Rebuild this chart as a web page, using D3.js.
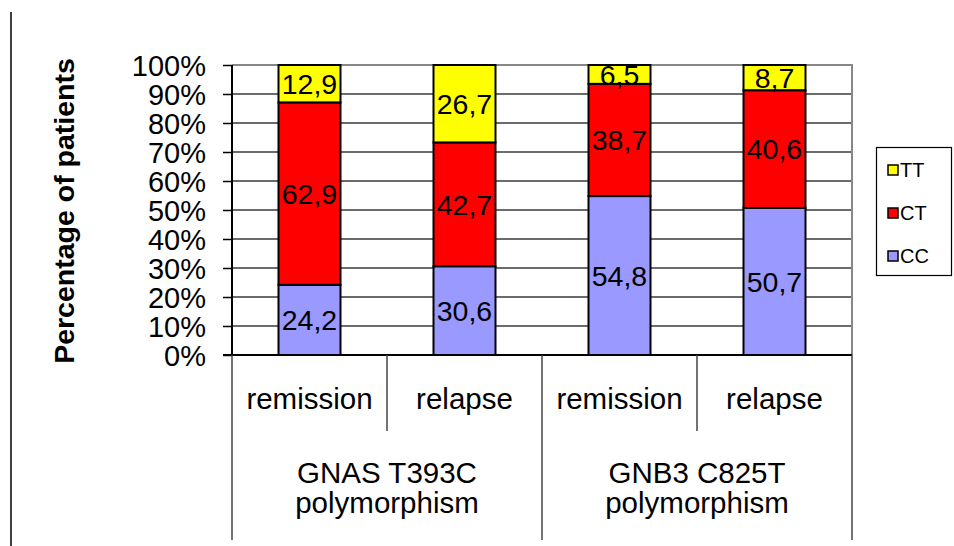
<!DOCTYPE html>
<meta charset="utf-8">
<script src="https://d3js.org/d3.v7.min.js"></script>
<style>
  body { margin: 0; background: #fff; }
  text { font-family: "Liberation Sans", Arial, sans-serif; fill: #000; }
</style>
<div id="chart"></div>
<script>

// data
var categories = ["remission", "relapse", "remission", "relapse"];
var groups = [["GNAS T393C", "polymorphism"], ["GNB3 C825T", "polymorphism"]];
var groupOf = [0, 0, 1, 1];
var genotypes = ["CC", "CT", "TT"];
var ccValues = [24.2, 30.6, 54.8, 50.7];
var ctValues = [62.9, 42.7, 38.7, 40.6];
var ttValues = [12.9, 26.7, 6.5, 8.7];
var yTicks = [0, 10, 20, 30, 40, 50, 60, 70, 80, 90, 100];
var colors = ["#9999ff", "#ff0000", "#ffff00"];

var W = 954, H = 546;
var pLeft = 232, pRight = 852, pTop = 65, pBottom = 355;

var svg = d3.select("#chart").append("svg")
    .attr("width", W)
    .attr("height", H);

// outer frame line on the left
svg.append("line")
    .attr("x1", 11).attr("x2", 11)
    .attr("y1", 12).attr("y2", H)
    .attr("stroke", "#000").attr("stroke-width", 1.5);

var rows = categories.map(function(c, i) {
  return {i: i, CC: ccValues[i], CT: ctValues[i], TT: ttValues[i]};
});
var series = d3.stack().keys(genotypes)(rows);

var x = d3.scaleBand()
  .domain(d3.range(categories.length))
  .range([pLeft, pRight])
  .paddingInner(0.6)
  .paddingOuter(0.3);

var y = d3.scaleLinear()
  .domain([0, 100])
  .range([pBottom, pTop]);

// gridlines
svg.append("g")
  .selectAll("line")
  .data(yTicks.slice(1, -1))
  .enter()
  .append("line")
    .attr("x1", pLeft).attr("x2", pRight)
    .attr("y1", function(d) { return y(d); })
    .attr("y2", function(d) { return y(d); })
    .attr("stroke", "#3a3a3a").attr("stroke-width", 1.3);

// plot border (top/right gray)
svg.append("path")
    .attr("d", "M" + pLeft + "," + y(100) + "H" + pRight + "V" + y(0))
    .attr("fill", "none").attr("stroke", "#888").attr("stroke-width", 2);

// bars
var bars = svg.append("g");
bars.selectAll("g")
  .data(series)
  .enter()
  .append("g")
    .attr("fill", function(d, i) { return colors[i]; })
  .selectAll("rect")
  .data(function(d) { return d; })
  .enter()
  .append("rect")
    .attr("x", function(d) { return x(d.data.i); })
    .attr("y", function(d) { return y(d[1]); })
    .attr("width", x.bandwidth())
    .attr("height", function(d) { return y(d[0]) - y(d[1]); })
    .attr("stroke", "#000").attr("stroke-width", 2);

// value labels (clipped to plot area)
svg.append("clipPath").attr("id", "plotclip")
  .append("rect")
    .attr("x", pLeft).attr("y", pTop)
    .attr("width", pRight - pLeft).attr("height", pBottom - pTop);

var labels = svg.append("g").attr("clip-path", "url(#plotclip)");
series.forEach(function(s) {
  labels.selectAll(null)
    .data(s)
    .enter()
    .append("text")
      .attr("x", function(d) { return x(d.data.i) + x.bandwidth() / 2; })
      .attr("y", function(d) { return (y(d[0]) + y(d[1])) / 2; })
      .attr("dy", "0.36em")
      .attr("text-anchor", "middle")
      .style("font-size", "28.5px")
      .text(function(d) { return (d[1] - d[0]).toFixed(1).replace(".", ","); });
});

// y axis
svg.append("g")
  .attr("transform", "translate(" + pLeft + ",0)")
  .call(d3.axisLeft(y).tickValues(yTicks).tickSize(9).tickPadding(17)
        .tickFormat(function(d) { return d + "%"; }))
  .call(function(g) {
    g.select(".domain").attr("stroke-width", 2).attr("d", "M0," + y(0) + "V" + y(100));
    g.selectAll(".tick line").attr("stroke-width", 1.5);
    g.selectAll("text")
      .attr("dy", "0.36em")
      .style("font-size", "29px")
      .style("font-family", "Liberation Sans, Arial, sans-serif");
  });

// bottom axis line
svg.append("line")
    .attr("x1", pLeft - 9).attr("x2", pRight)
    .attr("y1", y(0)).attr("y2", y(0))
    .attr("stroke", "#000").attr("stroke-width", 2);

// y title
svg.append("text")
    .attr("transform", "translate(74," + ((pTop + pBottom) / 2 + 1) + ") rotate(-90)")
    .attr("text-anchor", "middle")
    .style("font-size", "28.5px")
    .style("font-weight", "bold")
    .text("Percentage of patients");

// category dividers
var step = x.step();
var dividers = d3.range(categories.length + 1).map(function(k) {
  var isLong = (k === 0 || k === categories.length || groupOf[k] !== groupOf[k - 1]);
  return {x: pLeft + k * step, long: isLong};
});
svg.append("g")
  .selectAll("line")
  .data(dividers)
  .enter()
  .append("line")
    .attr("x1", function(d) { return d.x; })
    .attr("x2", function(d) { return d.x; })
    .attr("y1", pBottom)
    .attr("y2", function(d) { return d.long ? 540 : 431; })
    .attr("stroke", "#444").attr("stroke-width", 1.5);

// category labels
svg.append("g")
  .selectAll("text")
  .data(categories)
  .enter()
  .append("text")
    .attr("x", function(d, i) { return x(i) + x.bandwidth() / 2; })
    .attr("y", 409)
    .attr("text-anchor", "middle")
    .style("font-size", "29.5px")
    .text(function(d) { return d; });

// group labels
groups.forEach(function(lines, gi) {
  var idx = d3.range(categories.length).filter(function(i) { return groupOf[i] === gi; });
  var cx = d3.mean(idx, function(i) { return x(i) + x.bandwidth() / 2; });
  svg.append("g")
    .selectAll("text")
    .data(lines)
    .enter()
    .append("text")
      .attr("x", cx)
      .attr("y", function(d, j) { return 483 + j * 30; })
      .attr("text-anchor", "middle")
      .style("font-size", "29.5px")
      .text(function(d) { return d; });
});

// legend
var legend = svg.append("g");
legend.append("rect")
    .attr("x", 876.5).attr("y", 147.5)
    .attr("width", 75).attr("height", 128)
    .attr("fill", "#fff").attr("stroke", "#000").attr("stroke-width", 1.2);

var legendKeys = genotypes.slice().reverse();
legend.selectAll("rect.sw")
  .data(legendKeys)
  .enter()
  .append("rect")
    .attr("class", "sw")
    .attr("x", 888)
    .attr("y", function(d, i) { return 165 + i * 43; })
    .attr("width", 10).attr("height", 10)
    .attr("fill", function(d) { return colors[genotypes.indexOf(d)]; })
    .attr("stroke", "#000").attr("stroke-width", 1.5);

legend.selectAll("text")
  .data(legendKeys)
  .enter()
  .append("text")
    .attr("x", 900)
    .attr("y", function(d, i) { return 170 + i * 43; })
    .attr("dy", "0.36em")
    .style("font-size", "20px")
    .text(function(d) { return d; });

</script>
